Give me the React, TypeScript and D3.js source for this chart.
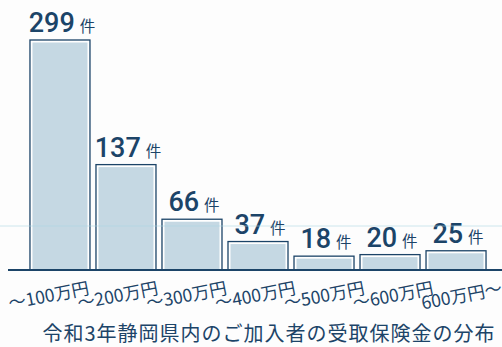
import React from "react";
import * as d3 from "d3";

const categories = ["～100万円", "～200万円", "～300万円", "～400万円", "～500万円", "～600万円", "600万円～"];
const counts = [299, 137, 66, 37, 18, 20, 25];
const unitLabel = "件";
const title = "令和3年静岡県内のご加入者の受取保険金の分布";

const W = 502;
const H = 347;
const NAVY = "#1c4468";
const FILL = "#c5d8e3";

export default function App() {
  const x = d3.scaleBand<string>().domain(categories).range([27, 489]).paddingInner(0.091).paddingOuter(0.045);
  const xLabel = d3.scalePoint<string>().domain(categories).range([90, 503]);
  const y = d3.scaleLinear().domain([0, 299]).range([270, 40]);
  const base = y(0);

  return (
    <svg width={W} height={H} viewBox={`0 0 ${W} ${H}`} style={{ position: "absolute", left: 0, top: 0, background: "#fdfdfd" }}>
      {categories.map((c, i) => {
        const bx = x(c)!;
        const bw = x.bandwidth();
        const top = y(counts[i]);
        return (
          <g key={c}>
            <rect x={bx} y={top} width={bw} height={base - top} fill="#ffffff" stroke={NAVY} strokeWidth={1.3} />
            <rect x={bx + 2.5} y={top + 2.5} width={bw - 5} height={Math.max(0, base - top - 2.5)} fill={FILL} />
            <text
              x={bx + bw / 2 + 2}
              y={top - 8}
              textAnchor="middle"
              fill={NAVY}
              style={{ fontFamily: "Roboto, 'Noto Sans', sans-serif" }}
            >
              <tspan fontSize={27} fontWeight={500}>{counts[i]}</tspan>
              <tspan dx={5} fontSize={15.5} style={{ fontFamily: "'Noto Sans CJK JP', sans-serif" }}>{unitLabel}</tspan>
            </text>
          </g>
        );
      })}
      <line x1={0} x2={W} y1={226} y2={226} stroke="#a9d6e3" strokeWidth={1} opacity={0.55} />
      <line x1={8} x2={W} y1={base} y2={base} stroke={NAVY} strokeWidth={2} />
      {categories.map((c) => (
        <text
          key={"l" + c}
          transform={`translate(${xLabel(c)},${base + 24}) rotate(-11)`}
          textAnchor="end"
          fontSize={17.5}
          fill={NAVY}
          style={{ fontFamily: "'Noto Sans CJK JP', sans-serif" }}
        >
          {c}
        </text>
      ))}
      <text
        x={269}
        y={341}
        textAnchor="middle"
        fontSize={20}
        letterSpacing={1}
        fill={NAVY}
        style={{ fontFamily: "'Noto Sans CJK JP', sans-serif" }}
      >
        {title}
      </text>
    </svg>
  );
}
